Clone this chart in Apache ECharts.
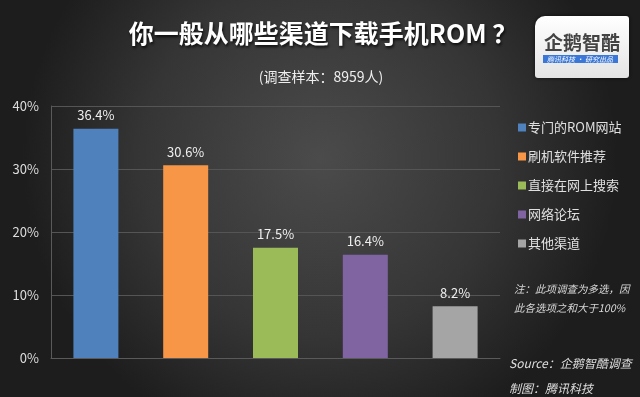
<!DOCTYPE html>
<html>
<head>
<meta charset="utf-8">
<script src="https://cdn.jsdelivr.net/npm/echarts@6/dist/echarts.min.js"></script>
<style>
html, body { margin: 0; padding: 0; }
#main { width: 640px; height: 397px; }
</style>
</head>
<body>
<div id="main"></div>
<script>
// 数据
var categories = ['专门的ROM网站', '刷机软件推荐', '直接在网上搜索', '网络论坛', '其他渠道'];
var values = [36.4, 30.6, 17.5, 16.4, 8.2];
var colors = ['#4f81bd', '#f79646', '#9bbb59', '#8064a2', '#a5a5a5'];
var yTicks = [0, 10, 20, 30, 40];

var font = '"Noto Sans CJK SC", "Noto Sans", sans-serif';

var myChart = echarts.init(document.getElementById('main'));

// 每个渠道一个系列，方便图例显示
var series = categories.map(function(name, i) {
	var d = categories.map(function(c, j) { return j === i ? values[i] : null; });
	return {
		name: name,
		type: 'bar',
		barWidth: 45,
		barGap: '-100%',
		data: d,
		itemStyle: { color: colors[i] },
		label: {
			show: true,
			position: 'top',
			distance: 7,
			color: '#eeeeee',
			fontSize: 13,
			fontFamily: font,
			formatter: '{c}%'
		}
	};
});

var option = {
	backgroundColor: {
		type: 'radial',
		x: 0.5, y: 0.4, r: 0.75,
		colorStops: [
			{ offset: 0, color: '#4b4b4b' },
			{ offset: 0.6, color: '#353535' },
			{ offset: 1, color: '#1d1d1d' }
		]
	},
	animation: false,
	title: [{
		text: '你一般从哪些渠道下载手机ROM ？',
		left: 318,
		top: 16,
		textAlign: 'center',
		textStyle: {
			color: '#ffffff',
			fontSize: 25,
			fontWeight: 'bold',
			fontFamily: font,
			textShadowColor: 'rgba(0,0,0,0.8)',
			textShadowBlur: 3,
			textShadowOffsetX: 1,
			textShadowOffsetY: 2
		}
	}, {
		text: '(调查样本：8959人)',
		left: 316,
		top: 65,
		textAlign: 'center',
		textStyle: { color: '#eeeeee', fontSize: 14, fontWeight: 'normal', fontFamily: font }
	}],
	legend: {
		orient: 'vertical',
		left: 513,
		top: 116,
		itemWidth: 8,
		itemHeight: 8,
		itemGap: 16,
		icon: 'rect',
		data: categories,
		textStyle: { color: '#e0e0e0', fontSize: 13, fontFamily: font, padding: [0, 0, 0, -3] }
	},
	grid: {
		left: 51,
		right: 140,
		top: 106,
		bottom: 39
	},
	xAxis: {
		type: 'category',
		data: categories,
		axisLabel: { show: false },
		axisTick: { show: false },
		axisLine: { lineStyle: { color: '#5a5a5a' } }
	},
	yAxis: {
		type: 'value',
		min: yTicks[0],
		max: yTicks[yTicks.length - 1],
		interval: 10,
		axisLine: { show: true, lineStyle: { color: '#5a5a5a' } },
		axisTick: { show: false },
		axisLabel: {
			color: '#dddddd',
			fontSize: 13,
			fontFamily: font,
			margin: 12,
			formatter: '{value}%'
		},
		splitLine: { lineStyle: { color: '#555555' } }
	},
	graphic: [
		// 右上角 logo
		{
			type: 'rect',
			shape: { x: 535, y: 16, width: 94, height: 62, r: [10, 3, 3, 3] },
			style: {
				fill: {
					type: 'linear', x: 0, y: 0, x2: 0, y2: 1,
					colorStops: [{ offset: 0, color: '#ffffff' }, { offset: 1, color: '#e4e4e4' }]
				},
				shadowColor: 'rgba(0,0,0,0.6)',
				shadowBlur: 4
			}
		},
		{
			type: 'text',
			style: {
				text: '企鹅智酷', x: 582, y: 43, align: 'center', verticalAlign: 'middle',
				fill: '#444444', fontSize: 19, fontFamily: font, fontWeight: 'bold'
			}
		},
		{
			type: 'rect',
			shape: { x: 543, y: 55, width: 75, height: 8 },
			style: { fill: '#3a77d6' }
		},
		{
			type: 'text',
			style: {
				text: '腾讯科技 · 研究出品', x: 580, y: 59, align: 'center', verticalAlign: 'middle',
				fill: '#ffffff', fontSize: 7, fontFamily: font, fontStyle: 'italic'
			}
		},
		// 注释
		{
			type: 'text',
			style: {
				text: '注：此项调查为多选，因\n此各选项之和大于100%', x: 514, y: 280, lineHeight: 19,
				fill: '#d8d8d8', fontSize: 10.5, fontFamily: font, fontStyle: 'italic'
			}
		},
		{
			type: 'text',
			style: {
				text: 'Source：企鹅智酷调查\n制图：腾讯科技', x: 509, y: 351, lineHeight: 25,
				fill: '#dddddd', fontSize: 12, fontFamily: font, fontStyle: 'italic'
			}
		}
	],
	series: series
};

myChart.setOption(option);
</script>
</body>
</html>
